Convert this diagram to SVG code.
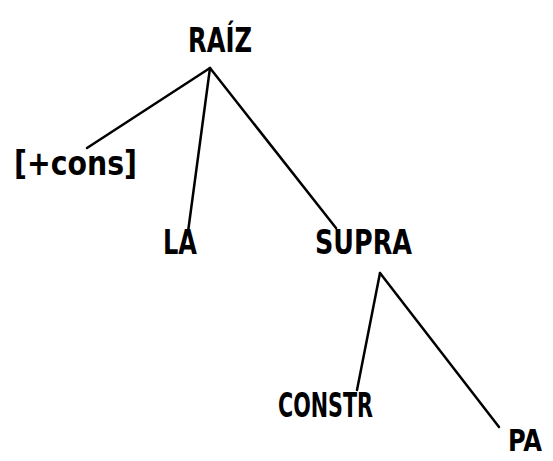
<svg xmlns="http://www.w3.org/2000/svg" width="553" height="461" viewBox="0 0 553 461">
<style>
text{font-family:"DejaVu Sans Condensed","DejaVu Sans",sans-serif;font-weight:bold;font-size:33px;fill:#000}
line{stroke:#000;stroke-width:2.5;stroke-linecap:round}
</style>
<rect width="553" height="461" fill="#fff"/>
<g id="connectors">
<line x1="210" y1="68" x2="87" y2="148"/>
<line x1="210" y1="68" x2="188" y2="232"/>
<line x1="210" y1="68" x2="336" y2="228"/>
<line x1="380" y1="273" x2="357" y2="390"/>
<line x1="380" y1="273" x2="499" y2="427"/>
</g>
<g id="raiz"><text x="188" y="52" textLength="64" lengthAdjust="spacingAndGlyphs">RAÍZ</text></g>
<g id="cons"><text x="14" y="175" textLength="123" lengthAdjust="spacingAndGlyphs">[+cons]</text></g>
<g id="la"><text x="163" y="254" textLength="34" lengthAdjust="spacingAndGlyphs">LA</text></g>
<g id="supra"><text x="315" y="254" textLength="97" lengthAdjust="spacingAndGlyphs">SUPRA</text></g>
<g id="constr"><text x="278" y="417" textLength="95" lengthAdjust="spacingAndGlyphs">CONSTR</text></g>
<g id="pa"><text x="508" y="451" style="font-size:30px" textLength="34" lengthAdjust="spacingAndGlyphs">PA</text></g>
</svg>
